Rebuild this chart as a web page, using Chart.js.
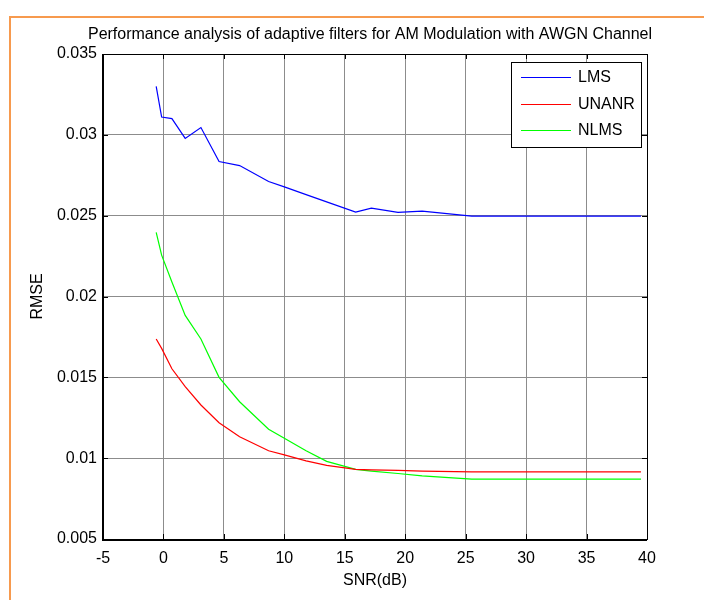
<!DOCTYPE html>
<html>
<head>
<meta charset="utf-8">
<script src="https://cdn.jsdelivr.net/npm/chart.js@4.4.1/dist/chart.umd.min.js"></script>
<style>
html,body{margin:0;padding:0;background:#fff;}
#wrap{position:relative;width:704px;height:600px;}
</style>
</head>
<body>
<div id="wrap"><canvas id="c" width="704" height="600"></canvas></div>
<script>
const chartTitle = 'Performance analysis of adaptive filters for AM Modulation with AWGN Channel';
const xTitle = 'SNR(dB)';
const yTitle = 'RMSE';
const seriesNames = ['LMS', 'UNANR', 'NLMS'];
const seriesColors = ['#0000ff', '#ff0000', '#00ff00'];
const yTickLabels = ['0.005', '0.01', '0.015', '0.02', '0.025', '0.03', '0.035'];
const xTickLabels = ['-5', '0', '5', '10', '15', '20', '25', '30', '35', '40'];

const snr   = [-0.6, -0.15, 0.7, 1.8, 3.1, 4.6, 6.3, 8.7, 10.0, 11.8, 13.5, 15.9, 17.2, 19.4, 21.4, 25.5, 39.5];
const lms   = [0.0330, 0.0311, 0.0310, 0.02978, 0.03045, 0.02835, 0.0281, 0.02711, 0.02678, 0.0263, 0.02585, 0.02522, 0.02546, 0.0252, 0.02528, 0.02497, 0.02497];
const unanr = [0.01737, 0.01679, 0.01553, 0.01442, 0.01329, 0.01219, 0.01133, 0.01046, 0.0102, 0.00983, 0.00955, 0.00931, 0.00928, 0.00924, 0.0092, 0.00915, 0.00915];
const nlms  = [0.02396, 0.02256, 0.0209, 0.01883, 0.01737, 0.0150, 0.01349, 0.01179, 0.01123, 0.01046, 0.0098, 0.00931, 0.0092, 0.00905, 0.0089, 0.0087, 0.0087];

const FONT = "'Liberation Sans', Arial, sans-serif";
const PLOT = {left: 103, right: 647, top: 54, bottom: 539};

function pts(ys){ return snr.map((x,i)=>({x:x, y:ys[i]})); }

const framePlugin = {
  id: 'frame',
  beforeDraw(chart){
    const ctx = chart.ctx;
    ctx.save();
    ctx.fillStyle = '#fff';
    ctx.fillRect(0,0,chart.width,chart.height);
    ctx.strokeStyle = '#f79a4e';
    ctx.lineWidth = 2;
    ctx.beginPath();
    ctx.moveTo(10, 600); ctx.lineTo(10, 17); ctx.lineTo(704, 17);
    ctx.stroke();
    ctx.fillStyle = '#000';
    ctx.font = '16px ' + FONT;
    ctx.textAlign = 'center';
    ctx.textBaseline = 'middle';
    ctx.fillText(chartTitle, 370, 35);
    ctx.restore();
  },
  afterDatasetsDraw(chart){
    const ctx = chart.ctx;
    const a = chart.chartArea;
    const xs = chart.scales.x, ys = chart.scales.y;
    ctx.save();
    ctx.strokeStyle = '#000';
    ctx.lineWidth = 1;
    ctx.strokeRect(a.left + 0.5, a.top + 0.5, a.right - a.left, a.bottom - a.top);
    ctx.lineWidth = 2;
    ctx.beginPath();
    ctx.moveTo(a.left, a.top); ctx.lineTo(a.left, a.bottom + 1); ctx.lineTo(a.right, a.bottom + 1);
    ctx.stroke();
    ctx.lineWidth = 1;
    ctx.beginPath();
    xs.ticks.forEach(t => {
      const px = Math.round(xs.getPixelForValue(t.value)) + 0.5;
      ctx.moveTo(px, a.bottom); ctx.lineTo(px, a.bottom - 5);
      ctx.moveTo(px, a.top); ctx.lineTo(px, a.top + 5);
    });
    ys.ticks.forEach(t => {
      const py = Math.round(ys.getPixelForValue(t.value)) + 0.5;
      ctx.moveTo(a.left, py); ctx.lineTo(a.left + 5, py);
      ctx.moveTo(a.right, py); ctx.lineTo(a.right - 5, py);
    });
    ctx.stroke();

    // legend
    const lx = 511, ly = 62, lw = 130, lh = 85;
    ctx.fillStyle = '#fff';
    ctx.fillRect(lx, ly, lw, lh);
    ctx.strokeStyle = '#000';
    ctx.lineWidth = 1;
    ctx.strokeRect(lx + 0.5, ly + 0.5, lw, lh);
    const rows = [77, 104, 130];
    ctx.font = '16px ' + FONT;
    ctx.textAlign = 'left';
    ctx.textBaseline = 'middle';
    chart.data.datasets.forEach((ds, i) => {
      ctx.strokeStyle = seriesColors[i];
      ctx.lineWidth = 1.2;
      ctx.beginPath();
      ctx.moveTo(521, rows[i] + 0.5); ctx.lineTo(571, rows[i] + 0.5);
      ctx.stroke();
      ctx.fillStyle = '#000';
      ctx.fillText(ds.label, 578, rows[i] + 1);
    });
    ctx.restore();
  }
};

new Chart(document.getElementById('c'), {
  type: 'line',
  data: {
    datasets: [
      {label: seriesNames[0], data: pts(lms), borderColor: seriesColors[0]},
      {label: seriesNames[1], data: pts(unanr), borderColor: seriesColors[1]},
      {label: seriesNames[2], data: pts(nlms), borderColor: seriesColors[2]}
    ].map(d => Object.assign(d, {borderWidth: 1.2, pointRadius: 0, fill: false, tension: 0}))
  },
  options: {
    responsive: false,
    animation: false,
    layout: {padding: {left: 0, right: 704 - PLOT.right, top: PLOT.top, bottom: 0}},
    plugins: {legend: {display: false}, title: {display: false}, tooltip: {enabled: false}},
    scales: {
      x: {
        type: 'linear', min: -5, max: 40,
        afterFit(s){ s.height = 600 - PLOT.bottom; },
        ticks: {stepSize: 5, color: '#000', font: {family: FONT, size: 16}, padding: 10,
          callback: (v, i) => xTickLabels[i]},
        grid: {color: '#8c8c8c', lineWidth: 1, drawTicks: false},
        border: {display: false},
        title: {display: true, text: xTitle, color: '#000', font: {family: FONT, size: 16}, padding: {top: 0, bottom: 10}}
      },
      y: {
        type: 'linear', min: 0.005, max: 0.035,
        afterFit(s){ s.width = PLOT.left; },
        ticks: {stepSize: 0.005, color: '#000', font: {family: FONT, size: 16}, padding: 6,
          callback: (v, i) => yTickLabels[i]},
        grid: {color: '#8c8c8c', lineWidth: 1, drawTicks: false},
        border: {display: false},
        title: {display: true, text: yTitle, color: '#000', font: {family: FONT, size: 16}, padding: {top: 28, bottom: 0}}
      }
    }
  },
  plugins: [framePlugin]
});
</script>
</body>
</html>
